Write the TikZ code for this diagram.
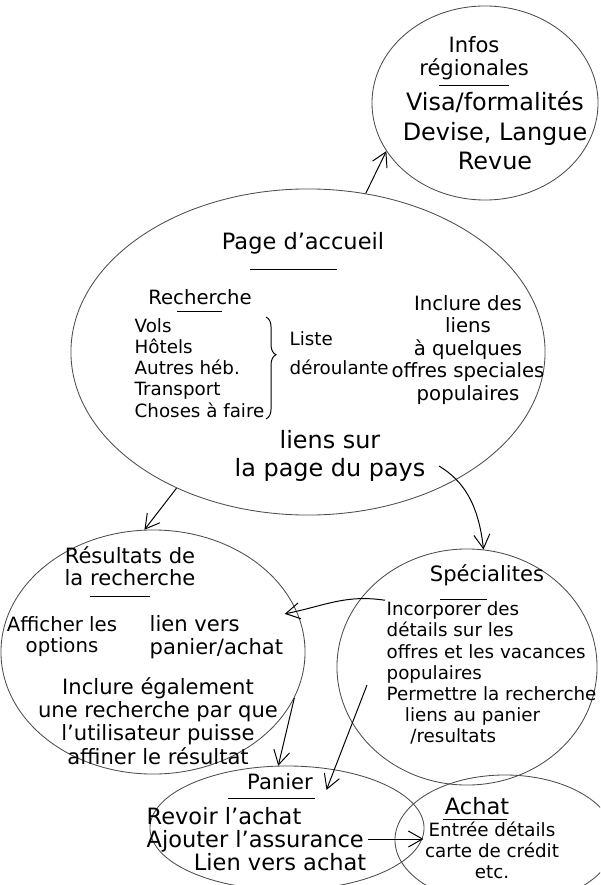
\documentclass[tikz,border=0pt]{standalone}
\usepackage{fontspec}
\setmainfont{DejaVu Sans}
\usetikzlibrary{shapes,arrows.meta,decorations.pathreplacing}

\begin{document}
\begin{tikzpicture}[
    x=0.025cm, y=-0.025cm,
    bubble/.style={ellipse, draw=black!70, line width=0.6pt, inner sep=0pt},
    heading/.style={inner sep=1pt, align=center, font=\fontsize{15}{16}\selectfont},
    body/.style={inner sep=1pt, align=center, font=\fontsize{15}{16}\selectfont},
    rule/.style={line width=0.6pt},
    arrow/.style={-{Straight Barb[length=3.5mm, width=4mm]}, line width=0.7pt},
    brace/.style={decorate, decoration={brace, amplitude=7pt, aspect=0.37}, line width=0.7pt}
]
    % Frame
    \useasboundingbox (0,0) rectangle (600,885);
    \fill[white] (0,0) rectangle (600,885);
    \clip (0,0) rectangle (600,885);

    % Bubbles
    \node[bubble, minimum width=5.65cm, minimum height=4.85cm] (infos) at (485,103) {};
    \node[bubble, minimum width=11.85cm, minimum height=8.15cm] (accueil) at (308,352) {};
    \node[bubble, minimum width=7.6cm, minimum height=6.1cm] (result) at (153,652) {};
    \node[bubble, minimum width=6.5cm, minimum height=5.9cm] (spec) at (467,667) {};
    \node[bubble, minimum width=6.85cm, minimum height=3.1cm] (panier) at (287,828) {};
    \node[bubble, minimum width=5.5cm, minimum height=3.25cm] (achat) at (505,840) {};

    % Infos regionales
    \node[heading] (infostitle) at (474,58) {Infos\\régionales};
    \draw[rule] (infostitle.south) +(-35,4) -- +(35,4);
    \node[body, font=\fontsize{17}{21}\selectfont] (infosbody) at (495,131) {
        Visa/formalités\\
        Devise, Langue\\
        Revue
    };

    % Page d'accueil
    \node[heading, font=\fontsize{16}{18}\selectfont] (accueiltitle) at (303,243) {Page d'accueil};
    \draw[rule] (accueiltitle.south) +(-53,14) -- +(34,14);
    \node[heading, font=\fontsize{14}{15}\selectfont] (recherche) at (200,297) {Recherche};
    \draw[rule] (recherche.south) +(-23,5) -- +(22,5);
    \node[body, align=left, anchor=west, font=\fontsize{13}{15}\selectfont] (recherchelist) at (133,368) {
        Vols\\
        Hôtels\\
        Autres héb.\\
        Transport\\
        Choses à faire
    };
    \draw[brace] (recherchelist.north east) -- (recherchelist.south east);
    \node[body, align=left, anchor=west, font=\fontsize{13}{21}\selectfont] (liste) at (288,353) {Liste\\déroulante};
    \node[body, font=\fontsize{14}{16}\selectfont] (inclure) at (468,350) {
        Inclure des\\
        liens\\
        à quelques\\
        offres speciales\\
        populaires
    };
    \node[body, font=\fontsize{17}{20}\selectfont] (pays) at (330,456) {liens sur\\la page du pays};

    % Resultats de la recherche
    \node[heading] (resulttitle) at (130,566) {Résultats de\\la recherche};
    \draw[rule] (resulttitle.south) +(-40,9) -- +(20,9);
    \node[body, font=\fontsize{14}{15}\selectfont] (afficher) at (62,637) {Afficher les\\options};
    \node[body, align=left, anchor=west] (lienvers) at (148,637) {lien vers\\panier/achat};
    \node[body, font=\fontsize{15}{16.5}\selectfont] (inclure2) at (158,721) {
        Inclure également\\
        une recherche par que\\
        l'utilisateur puisse\\
        affiner le résultat
    };

    % Specialites
    \node[heading] (spectitle) at (487,575) {Spécialites};
    \draw[rule] (spectitle.south) +(-47,12) -- +(0,12);
    \node[body, align=left, anchor=west, font=\fontsize{13}{15}\selectfont] (specbody) at (385,673) {
        Incorporer des\\
        détails sur les\\
        offres et les vacances\\
        populaires\\
        Permettre la recherche\\
        \hspace*{1em}liens au panier\\
        \hspace*{1.3em}/resultats
    };

    % Panier
    \node[heading] (paniertitle) at (280,782) {Panier};
    \draw[rule] (paniertitle.south) +(-52,7) -- +(35,7);
    \node[body, align=left, anchor=west, font=\fontsize{16}{16.5}\selectfont] (panierbody) at (145,839) {
        Revoir l'achat\\
        Ajouter l'assurance\\
        \hspace*{2.1em}Lien vers achat
    };

    % Achat
    \node[heading, font=\fontsize{16}{18}\selectfont] (achattitle) at (477,806) {Achat};
    \draw[rule] (achattitle.south) +(-34,3) -- +(30,3);
    \node[body, font=\fontsize{13}{15}\selectfont] (achatbody) at (492,850) {
        Entrée détails\\
        carte de crédit\\
        etc.
    };

    % Arrows
    \draw[arrow] (accueil.70) -- (infos.206);
    \draw[arrow] (accueil.226) -- (result.94);
    \draw[arrow] ([shift={(12,10)}]pays.east) .. controls +(25,15) and +(-5,-45) .. (spec.82);
    \draw[arrow] (specbody.north west) .. controls +(-40,-6) and +(40,-8) .. (lienvers.north east);
    \draw[arrow] (result.-18) -- (panier.98);
    \draw[arrow] ([shift={(-18,12)}]specbody.west) -- ([shift={(12,-2)}]paniertitle.south east);
    \draw[arrow] (panierbody.east) -- (panierbody.east -| achatbody.west);
\end{tikzpicture}
\end{document}
